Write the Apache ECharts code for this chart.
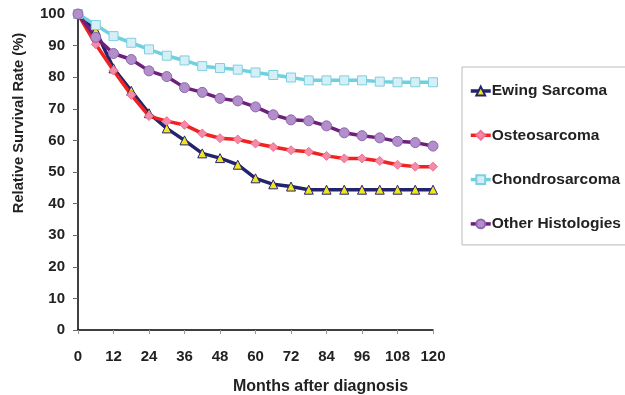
<!DOCTYPE html>
<html><head><meta charset="utf-8">
<script src="https://cdn.jsdelivr.net/npm/echarts@6/dist/echarts.min.js"></script>
<style>html,body{margin:0;padding:0;background:#fff}#c{width:625px;height:395px}</style>
</head><body><div id="c"></div>
<script>
const months = [0,6,12,18,24,30,36,42,48,54,60,66,72,78,84,90,96,102,108,114,120];
const ewing = [100,94.7,82.8,75.7,68.6,63.8,60.0,55.9,54.4,52.3,48.0,46.1,45.4,44.4,44.4,44.4,44.4,44.4,44.4,44.4,44.4];
const osteo = [100,90.4,82.1,74.4,67.7,66.1,64.9,62.2,60.7,60.3,59.0,57.9,56.9,56.4,55.1,54.3,54.3,53.5,52.3,51.7,51.7];
const chondro = [100,96.5,93.0,90.9,88.8,86.8,85.3,83.5,82.9,82.4,81.5,80.7,79.9,79.0,79.0,79.0,79.0,78.6,78.4,78.4,78.4];
const other = [100,92.6,87.5,85.6,82.0,80.2,76.7,75.2,73.3,72.5,70.6,68.1,66.5,66.2,64.6,62.4,61.5,60.8,59.7,59.3,58.2];
const seriesNames = ['Ewing Sarcoma','Osteosarcoma','Chondrosarcoma','Other Histologies'];
const xTicks = [0,12,24,36,48,60,72,84,96,108,120];

const pair = arr => months.map((m,i)=>[m,arr[i]]);
const chart = echarts.init(document.getElementById('c'));
const font = 'Liberation Sans, Arial, sans-serif';
function mk(name, data, lineColor, symbol, size, fill, border){
  return {name, type:'line', data:pair(data), symbol, symbolSize:size,
    lineStyle:{color:lineColor,width:3.5}, itemStyle:{color:fill,borderColor:border,borderWidth:1},
    emphasis:{disabled:true}, animation:false, z: 2};
}
chart.setOption({
  animation:false,
  grid:{left:78,right:192,top:14,bottom:65,containLabel:false,outerBoundsMode:'none'},
  xAxis:{type:'value',min:0,max:120,interval:12,
    name:'Months after diagnosis',nameLocation:'middle',nameGap:49,
    nameTextStyle:{fontFamily:font,fontWeight:'bold',fontSize:16,color:'#222',padding:[0,0,0,130]},
    axisLine:{lineStyle:{color:'#000',width:1.5}},
    axisTick:{show:true,length:4,lineStyle:{color:'#999'}},
    axisLabel:{fontFamily:font,fontWeight:'bold',fontSize:15,color:'#222',margin:19,
      formatter:v=>xTicks.includes(v)?String(v):''},
    splitLine:{show:false}},
  yAxis:{type:'value',min:0,max:100,interval:10,
    name:'Relative Survival Rate (%)',nameLocation:'middle',nameGap:52,nameRotate:90,
    nameTextStyle:{fontFamily:font,fontWeight:'bold',fontSize:14.7,color:'#222',padding:[0,0,0,98]},
    axisLine:{show:true,lineStyle:{color:'#000',width:1.5}},
    axisTick:{show:true,length:5,lineStyle:{color:'#666'}},
    axisLabel:{fontFamily:font,fontWeight:'bold',fontSize:15,color:'#222',margin:13},
    splitLine:{show:false}},
  legend:{orient:'vertical',left:462,top:67,itemGap:28.3,itemWidth:20,itemHeight:11,
    padding:[16,60,13,7],borderColor:'#bbb',borderWidth:1,
    lineStyle:{width:3.5},
    data:seriesNames,
    textStyle:{fontFamily:font,fontWeight:'bold',fontSize:15.5,color:'#222',padding:[0,0,0,-4]}},
  series:[
    mk(seriesNames[0],ewing,'#23236e','triangle',9,'#f2e51e','#23236e'),
    mk(seriesNames[1],osteo,'#f02222','diamond',9,'#f58aa8','#f07090'),
    mk(seriesNames[2],chondro,'#6fd0de','rect',9,'#d4eff5','#7fcfe0'),
    mk(seriesNames[3],other,'#6e1f7a','circle',10,'#b28fca','#8e66ae')
  ]
});
</script></body></html>
